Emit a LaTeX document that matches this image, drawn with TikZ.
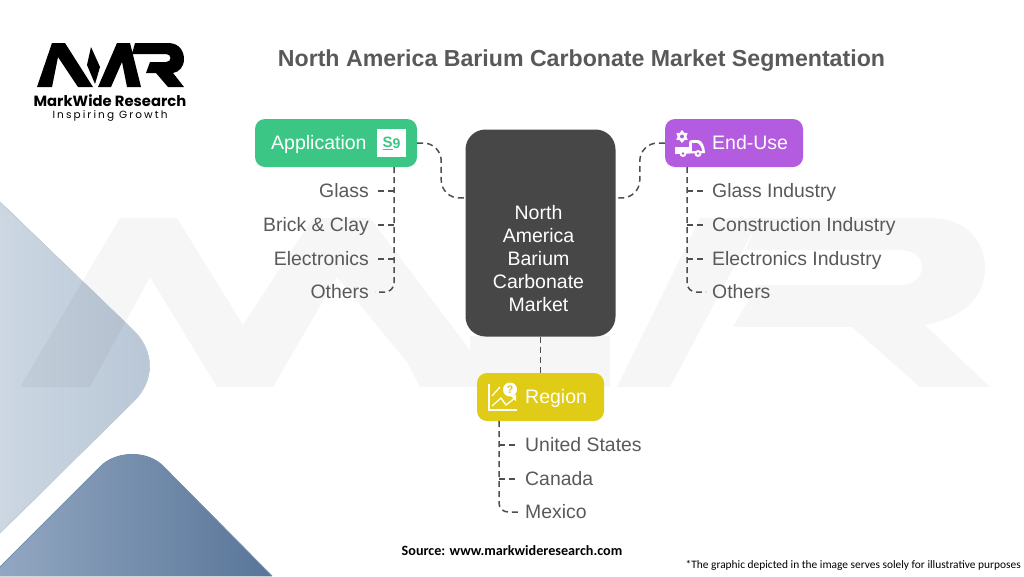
\documentclass[tikz,border=0pt]{standalone}
\usepackage{fontspec}
\setmainfont{Liberation Sans}
\newfontfamily\logofont{Poppins}
\newfontfamily\logowide[LetterSpace=20]{Poppins}
\newfontfamily\notefont{Carlito}
\usetikzlibrary{shapes.geometric}
\definecolor{txtgray}{HTML}{595959}
\definecolor{dashgray}{HTML}{4F4F4F}
\definecolor{boxgray}{HTML}{474747}
\definecolor{appgreen}{HTML}{3CC686}
\definecolor{endviolet}{HTML}{B45CE0}
\definecolor{regyellow}{HTML}{E0CB16}
\definecolor{paleblue}{HTML}{C4D0DD}
\definecolor{deepblue}{HTML}{7590AE}
\newcommand{\fsz}[1]{\fontsize{#1}{#1}\selectfont}
\tikzset{
	headbox/.style = {rectangle, rounded corners=10pt, minimum height=48pt, inner sep=0pt},
	headname/.style = {anchor=west, text=white, font=\fsz{19.5}, text height=15.4pt, text depth=3pt, inner sep=0pt},
	itemL/.style = {anchor=east, text=txtgray, font=\fsz{19.4}, text height=15.4pt, text depth=3pt, inner sep=0pt},
	itemR/.style = {anchor=west, text=txtgray, font=\fsz{19.4}, text height=15.4pt, text depth=3pt, inner sep=0pt},
	dashline/.style = {draw=dashgray, line width=1.5pt, dash pattern=on 6pt off 4pt},
}
\begin{document}
\begin{tikzpicture}[x=1pt, y=-1pt]
	\useasboundingbox (0,0) rectangle (1024,576);
	% corner shapes
	\fill[left color={rgb,255:red,204;green,215;blue,226}, right color={rgb,255:red,184;green,198;blue,214}]
		(0,202) -- (133,330) .. controls (155,351) and (155,381) .. (133,402) -- (0,533) -- cycle;
	\draw[paleblue, line width=0.8pt] (0,202) -- (133,330) .. controls (155,351) and (155,381) .. (133,402) -- (0,533);
	\fill[left color={rgb,255:red,146;green,167;blue,193}, right color={rgb,255:red,88;green,117;blue,152}]
		(0,567) -- (100,467) .. controls (115,451) and (148,449) .. (165,468) -- (272,576) -- (0,576) -- cycle;
	\draw[deepblue, line width=0.8pt] (0,567) -- (100,467) .. controls (115,451) and (148,449) .. (165,468) -- (272,576);
	% watermark
	\fill[black, fill opacity=0.035]
		(20,387) -- (120,218) -- (177,218) -- (243,325) -- (313,218) -- (370,218) -- (470,350) -- (470,336) -- (610,336) -- (610,387) -- (420,387) -- (407,362) -- (337,277) -- (273,387) -- (217,387) -- (150,277) -- (90,387) -- cycle
		(617,387) -- (700,218) -- (760,218) -- (670,387) -- cycle
		(760,218) -- (930,218) .. controls (970,218) and (985,245) .. (985,268) .. controls (985,300) and (960,318) .. (925,325) -- (990,387) -- (920,387) -- (852,327) -- (733,327) -- (757,285) -- (900,285) .. controls (915,285) and (922,275) .. (922,268) .. controls (922,258) and (915,250) .. (900,250) -- (745,250) -- cycle;
	% logo
	\fill[black]
		(37,87) -- (52,43) -- (65,43) -- (93,87) -- (78,87) -- (58,57) -- (52,87) -- cycle
		(91,47) -- (100,67) -- (95,84) -- (87,65) -- cycle
		(98,87) -- (117,43) -- (130,43) -- (141,87) -- (127,87) -- (122,62) -- (111,87) -- cycle
		(135,43) -- (168,43) .. controls (180,43) and (184,52) .. (184,59) .. controls (184,67) and (179,72) .. (173,73) -- (184,87) -- (168,87) -- (156,73) -- (146,73) -- (150,62) -- (166,62) .. controls (172,62) and (172,54) .. (166,54) -- (132,54) -- cycle;
	\node[inner sep=0pt, font=\logofont\bfseries\fsz{14.8}] (brand) at (110,101) {MarkWide Research};
	\node[inner sep=0pt, font=\logowide\fsz{10.5}] (motto) at (110,115.5) {Inspiring Growth};
	\node[inner sep=0pt, text=txtgray, font=\bfseries\fsz{23.15}] (title) at (581.5,60.5) {North America Barium Carbonate Market Segmentation};
	% main boxes
	\node[rectangle, rounded corners=20pt, fill=boxgray, minimum width=150pt, minimum height=207pt, inner sep=0pt] (market) at (540.5,233) {};
	\node[inner sep=0pt, text=white, font=\fsz{19.5}, align=center] (marketname) at (538.5,258.5)
		{North\\[3.4pt]America\\[3.4pt]Barium\\[3.4pt]Carbonate\\[3.4pt]Market};
	\node[headbox, fill=appgreen, minimum width=162pt] (App) at (336,143) {};
	\node[headbox, fill=endviolet, minimum width=138pt] (End) at (734,143) {};
	\node[headbox, fill=regyellow, minimum width=127pt] (Reg) at (540.5,397) {};
	\node[headname] (appname) at (271,143) {Application};
	\node[headname] (endname) at (712,143) {End-Use};
	\node[headname] (regname) at (525,397) {Region};
	% items
	\node[itemL] (a1) at (369,191) {Glass};
	\node[itemL] (a2) at (369,225) {Brick \& Clay};
	\node[itemL] (a3) at (369,259) {Electronics};
	\node[itemL] (a4) at (369,292) {Others};
	\node[itemR] (e1) at (712,191) {Glass Industry};
	\node[itemR] (e2) at (712,225) {Construction Industry};
	\node[itemR] (e3) at (712,259) {Electronics Industry};
	\node[itemR] (e4) at (712,292) {Others};
	\node[itemR] (r1) at (525,445) {United States};
	\node[itemR] (r2) at (525,479) {Canada};
	\node[itemR] (r3) at (525,512) {Mexico};
	% connectors
	\coordinate (aStem) at (394,167);
	\coordinate (eStem) at (687,167);
	\coordinate (rStem) at (499,421);
	\draw[dashline, rounded corners=18pt] (App.east) -- ++(24,0) -- ++(0,55) -- (market.155);
	\draw[dashline, rounded corners=18pt] (End.west) -- ++(-25,0) -- ++(0,55) -- (market.25);
	\draw[dashline] (market.south) -- (Reg.north);
	\draw[dashline, rounded corners=9pt, shorten >=6pt] (aStem) |- (a4.east);
	\draw[dashline, rounded corners=9pt, shorten >=6pt] (eStem) |- (e4.west);
	\draw[dashline, rounded corners=9pt, shorten >=6pt] (rStem) |- (r3.west);
	\draw[dashline, shorten >=9pt] (aStem |- a1.east) -- (a1.east);
	\draw[dashline, shorten >=9pt] (aStem |- a2.east) -- (a2.east);
	\draw[dashline, shorten >=9pt] (aStem |- a3.east) -- (a3.east);
	\draw[dashline, shorten >=9pt] (eStem |- e1.west) -- (e1.west);
	\draw[dashline, shorten >=9pt] (eStem |- e2.west) -- (e2.west);
	\draw[dashline, shorten >=9pt] (eStem |- e3.west) -- (e3.west);
	\draw[dashline, shorten >=9pt] (rStem |- r1.west) -- (r1.west);
	\draw[dashline, shorten >=9pt] (rStem |- r2.west) -- (r2.west);
	% icons
	\node[fill=white, minimum size=28.5pt, inner sep=0pt, text=appgreen, font=\bfseries\fsz{15}] (money) at (391.5,143) {\underline{S}\raisebox{-1pt}{\fsz{14}9}};
	\node[star, star points=6, star point ratio=1.5, fill=white, minimum size=13pt, inner sep=0pt] (gear) at (682,136.5) {};
	\fill[endviolet] (gear) circle (2pt);
	\fill[white] (675,147) -- (689,147) -- (689,143) .. controls (689,141) and (690,140) .. (692,140) -- (698,140) .. controls (702,140) and (705,147) .. (705,153) -- (675,154) -- cycle;
	\fill[endviolet] (692,143) -- (697,143) .. controls (699,143) and (702,148) .. (702,151) -- (692,151) -- cycle;
	\fill[white] (683,153.5) circle (3.5pt) (698,153.5) circle (3.5pt);
	\fill[endviolet] (683,153.5) circle (1.4pt) (698,153.5) circle (1.4pt);
	\draw[white, line width=1.3pt] (489,384) -- (489,410) -- (517,410);
	\draw[white, line width=1.3pt] (492,396) -- (500,387);
	\draw[white, line width=1.3pt, line join=round] (492,406) -- (501,398) -- (506,405) -- (515,398);
	\fill[white] (516,395) -- (516,401) -- (511,396) -- cycle;
	\node[circle, fill=white, minimum size=14pt, inner sep=0pt, text=regyellow, font=\bfseries\fsz{11}] (help) at (510,389.5) {?};
	% footer
	\node[inner sep=0pt, font=\notefont\bfseries\fsz{14.15}] (source) at (512,551) {Source: www.markwideresearch.com};
	\node[inner sep=0pt, anchor=east, font=\notefont\fsz{11.4}] (note) at (1021,565.5) {*The graphic depicted in the image serves solely for illustrative purposes};
\end{tikzpicture}
\end{document}
